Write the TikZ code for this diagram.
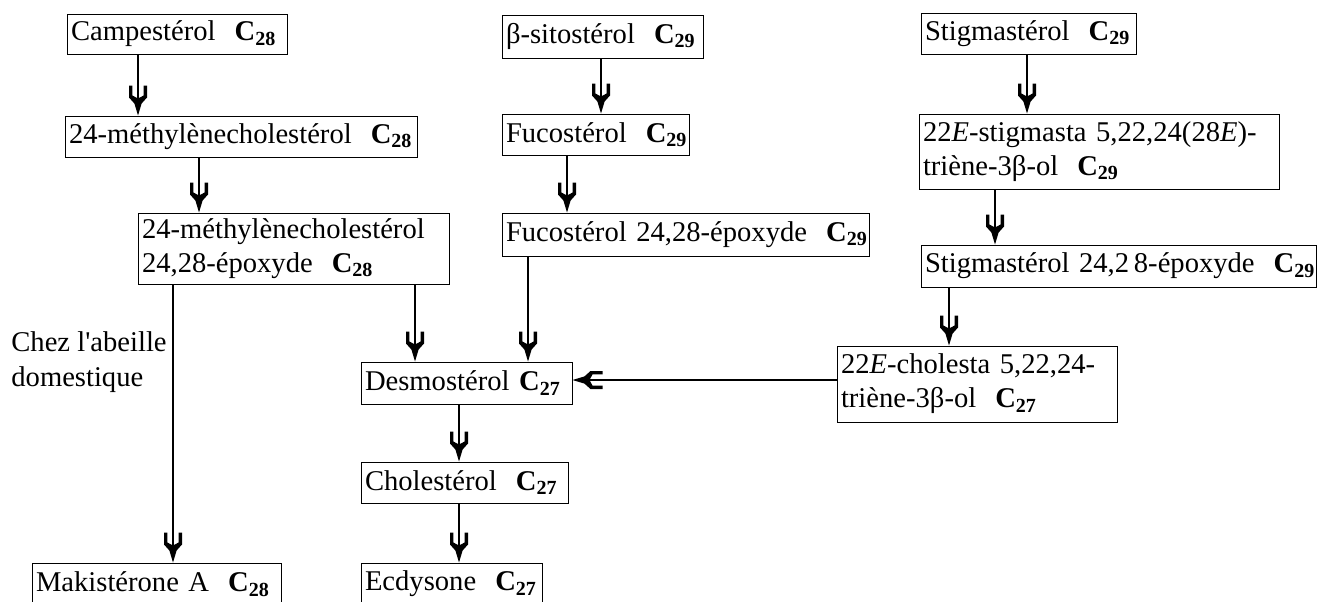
\documentclass[tikz,border=0pt]{standalone}
\usepackage{fontspec}
\setmainfont{Liberation Serif}
\usetikzlibrary{arrows.meta}

\newcommand{\carb}[1]{\textbf{C\textsubscript{#1}}}

% pointe fourchue
\pgfdeclarearrow{
  name = Fork,
  setup code = {
    \pgfarrowssettipend{0pt}
    \pgfarrowssetlineend{-6pt}
    \pgfarrowssetbackend{-15pt}
    \pgfarrowshullpoint{0pt}{0pt}
    \pgfarrowshullpoint{-15pt}{4.5pt}
    \pgfarrowshullpoint{-15pt}{-4.5pt}
  },
  drawing code = {
    \pgfpathmoveto{\pgfpoint{0pt}{0pt}}
    \pgfpathlineto{\pgfpoint{-6pt}{1.8pt}}
    \pgfpathlineto{\pgfpoint{-9pt}{4.5pt}}
    \pgfpathlineto{\pgfpoint{-15pt}{4.5pt}}
    \pgfpathlineto{\pgfpoint{-15pt}{2.8pt}}
    \pgfpathlineto{\pgfpoint{-10pt}{2.8pt}}
    \pgfpathlineto{\pgfpoint{-8.5pt}{0pt}}
    \pgfpathlineto{\pgfpoint{-10pt}{-2.8pt}}
    \pgfpathlineto{\pgfpoint{-15pt}{-2.8pt}}
    \pgfpathlineto{\pgfpoint{-15pt}{-4.5pt}}
    \pgfpathlineto{\pgfpoint{-9pt}{-4.5pt}}
    \pgfpathlineto{\pgfpoint{-6pt}{-1.8pt}}
    \pgfpathclose
    \pgfusepathqfill
  }
}

\begin{document}
\begin{tikzpicture}[x=0.5pt, y=-0.5pt,
  sterol/.style={draw, line width=0.5pt, inner xsep=2pt, inner ysep=0pt, align=left, font=\fontsize{14.3}{17}\selectfont},
  flow/.style={line width=1.1pt, -Fork}]
\useasboundingbox (0,0) rectangle (1320,601);

\node[sterol, text width=106pt, minimum height=20pt] (camp) at (177,34) {\mbox{Campestérol~~\carb{28}}};
\node[sterol, text width=172pt, minimum height=20.5pt] (methyl) at (241,136.5) {\mbox{24-méthylènecholestérol~~\carb{28}}};
\node[sterol, text width=151.5pt, minimum height=35.5pt] (methylepox) at (293.5,248.5) {24-méthylènecholestérol\\24,28-époxyde~~\carb{28}};
\node[sterol, text width=96.5pt, minimum height=21.5pt] (sito) at (602.5,36.5) {\mbox{β-sitostérol~~\carb{29}}};
\node[sterol, text width=89.5pt, minimum height=20.5pt] (fuco) at (595.5,134.5) {\mbox{Fucostérol~~\carb{29}}};
\node[sterol, text width=179.5pt, minimum height=21.5pt] (fucoepox) at (685.5,234.5) {\mbox{Fucostérol 24,28-époxyde~~\carb{29}}};
\node[sterol, text width=103.5pt, minimum height=20.5pt] (stigma) at (1028.5,33.5) {\mbox{Stigmastérol~~\carb{29}}};
\node[sterol, text width=176pt, minimum height=37.5pt] (triene29) at (1099,151.5) {\mbox{22\textit{E}-stigmasta 5,22,24(28\textit{E})-}\\triène-3β-ol~~\carb{29}};
\node[sterol, text width=193.5pt, minimum height=21pt] (stigmaepox) at (1118.5,266) {\mbox{Stigmastérol 24,2\,8-époxyde~~\carb{29}}};
\node[sterol, text width=136pt, minimum height=38pt] (triene27) at (977,384) {\mbox{22\textit{E}-cholesta 5,22,24-}\\triène-3β-ol~~\carb{27}};
\node[sterol, text width=101.5pt, minimum height=21pt] (desmo) at (466.5,383) {\mbox{Desmostérol \carb{27}}};
\node[sterol, text width=99.5pt, minimum height=20.5pt] (chol) at (464.5,482.5) {\mbox{Cholestérol~~\carb{27}}};
\node[sterol, text width=86.5pt, minimum height=21pt] (ecdy) at (451.5,584) {\mbox{Ecdysone~~\carb{27}}};
\node[sterol, text width=120.5pt, minimum height=21pt] (maki) at (156.5,584) {\mbox{Makistérone A~~\carb{28}}};

\node[anchor=west, align=left, inner sep=0pt, font=\fontsize{14.3}{17.5}\selectfont] (abeille) at (11,362) {Chez l\textquotesingle abeille\\domestique};

% colonne du campestérol
\draw[flow] (138,0 |- camp.south) -- (138,0 |- methyl.north);
\draw[flow] (199,0 |- methyl.south) -- (199,0 |- methylepox.north);
\draw[flow] (173,0 |- methylepox.south) -- (173,0 |- maki.north);
\draw[flow] (415,0 |- methylepox.south) -- (415,0 |- desmo.north);
% colonne du sitostérol
\draw[flow] (601,0 |- sito.south) -- (601,0 |- fuco.north);
\draw[flow] (567,0 |- fuco.south) -- (567,0 |- fucoepox.north);
\draw[flow] (528,0 |- fucoepox.south) -- (528,0 |- desmo.north);
% colonne du stigmastérol
\draw[flow] (1027,0 |- stigma.south) -- (1027,0 |- triene29.north);
\draw[flow] (995,0 |- triene29.south) -- (995,0 |- stigmaepox.north);
\draw[flow] (949,0 |- stigmaepox.south) -- (949,0 |- triene27.north);
\draw[flow] (triene27.west |- 0,380) -- (desmo.east |- 0,380);
% vers l'ecdysone
\draw[flow] (459,0 |- desmo.south) -- (459,0 |- chol.north);
\draw[flow] (459,0 |- chol.south) -- (459,0 |- ecdy.north);
\end{tikzpicture}
\end{document}
